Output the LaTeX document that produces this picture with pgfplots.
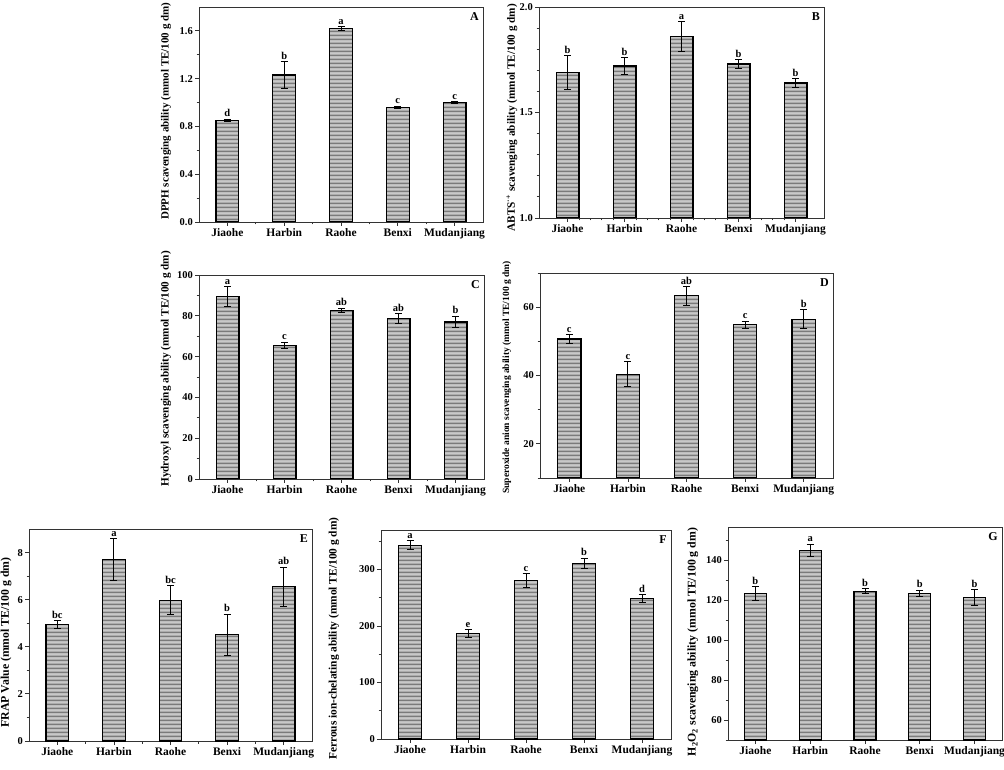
\documentclass[border=0pt]{standalone}
\usepackage{fontspec}
\setmainfont{Liberation Serif}
\usepackage{pgfplots}
\pgfplotsset{compat=1.18}
\usepackage{pgfplotstable}
\usetikzlibrary{patterns}

\pgfdeclarepatternformonly{mystripes}{\pgfpointorigin}{\pgfpoint{300pt}{4pt}}{\pgfpoint{300pt}{4pt}}{%
  \pgfpathrectangle{\pgfpoint{0pt}{1pt}}{\pgfpoint{300pt}{2pt}}\pgfusepath{fill}}

\definecolor{stripedark}{HTML}{7A7A7A}
\definecolor{stripelight}{HTML}{C8C8C8}

\pgfplotstableread{
x y e l
0 0.85 0.012 d
1 1.23 0.11 b
2 1.62 0.018 a
3 0.96 0.01 c
4 1.00 0.01 c
}\dataA
\pgfplotstableread{
x y e l
0 1.69 0.08 b
1 1.72 0.04 b
2 1.86 0.07 a
3 1.73 0.02 b
4 1.64 0.02 b
}\dataB
\pgfplotstableread{
x y e l
0 89.5 4.7 a
1 65.5 1.6 c
2 82.7 1.1 ab
3 78.5 2.4 ab
4 77.0 2.8 b
}\dataC
\pgfplotstableread{
x y e l
0 50.7 1.2 c
1 40.4 3.6 c
2 63.3 2.8 ab
3 54.9 1.0 c
4 56.5 2.8 b
}\dataD
\pgfplotstableread{
x y e l
0 4.95 0.16 bc
1 7.70 0.88 a
2 5.97 0.62 bc
3 4.51 0.87 b
4 6.55 0.83 ab
}\dataE
\pgfplotstableread{
x y e l
0 343 8 a
1 187 7 e
2 281 12 c
3 311 9 b
4 249 7 d
}\dataF
\pgfplotstableread{
x y e l
0 123.3 3.5 b
1 144.9 3.0 a
2 124.3 1.3 b
3 123.3 1.6 b
4 121.2 3.8 b
}\dataG

\pgfplotsset{
  panel/.style={
    scale only axis,
    anchor=south west,
    xmin=-0.5, xmax=4.5,
    xtick={0,1,2,3,4},
    xticklabels={Jiaohe,Harbin,Raohe,Benxi,Mudanjiang},
    tick pos=left,
    tick align=outside,
    major tick length=4pt,
    minor tick length=2.5pt,
    axis line style={line width=0.9pt, draw=black!80},
    every tick/.style={line width=0.8pt, black!80},
    xticklabel style={font=\fontsize{11.5}{13}\selectfont\bfseries, inner sep=2pt},
    yticklabel style={font=\fontsize{10.5}{12}\selectfont\bfseries, inner sep=2pt},
    /pgf/number format/assume math mode=true,
    ylabel style={font=\fontsize{11.2}{13}\selectfont\bfseries, anchor=center},
  },
  mybar/.style={
    ybar, bar width=0.4, draw=black, line width=1.2pt, fill=stripelight,
    postaction={pattern=mystripes, pattern color=stripedark},
    error bars/.cd, y dir=both, y explicit,
    error bar style={line width=1pt, black},
    error mark options={rotate=90, mark size=3.5pt, line width=1pt, black},
  },
  letters/.style={
    draw=none, mark=none, nodes near coords, point meta=explicit symbolic,
    nodes near coords style={font=\fontsize{10.5}{12}\selectfont\bfseries, anchor=south, inner sep=1pt, yshift=1pt},
  },
}
\newcommand{\panelletter}[1]{\node[anchor=north east, inner sep=0pt, font=\fontsize{12}{14}\selectfont\bfseries] at (rel axis cs:1,1) [xshift=-4pt, yshift=-5pt] {#1};}

\begin{document}
\begin{tikzpicture}
\useasboundingbox (0,0) rectangle (1004pt,769pt);

% A
\begin{axis}[panel, at={(199pt,547pt)}, width=284pt, height=215pt,
  ymin=0, ymax=1.8, ytick={0,0.4,0.8,1.2,1.6}, minor tick num=1,
  yticklabel style={/pgf/number format/.cd, fixed, fixed zerofill, precision=1},
  ylabel={DPPH scavenging ability (mmol TE/100 g dm)},
  ylabel style={at={(axis description cs:-0.116,0.515)}, font=\fontsize{11}{13}\selectfont\bfseries}]
\addplot[mybar] table[x=x, y=y, y error=e] {\dataA};
\addplot[letters] table[x=x, y expr=\thisrow{y}+\thisrow{e}, meta=l] {\dataA};
\panelletter{A}
\end{axis}

% B
\begin{axis}[panel, at={(539pt,551pt)}, width=285pt, height=211pt,
  ymin=1, ymax=2, ytick={1,1.5,2}, minor tick num=4,
  yticklabel style={/pgf/number format/.cd, fixed, fixed zerofill, precision=1},
  ylabel={ABTS\textsuperscript{·+} scavenging ability (mmol TE/100 g dm)},
  ylabel style={at={(axis description cs:-0.095,0.475)}}]
\addplot[mybar] table[x=x, y=y, y error=e] {\dataB};
\addplot[letters] table[x=x, y expr=\thisrow{y}+\thisrow{e}, meta=l] {\dataB};
\panelletter{B}
\end{axis}

% C
\begin{axis}[panel, at={(199pt,290pt)}, width=285pt, height=204pt,
  ymin=0, ymax=100, ytick={0,20,40,60,80,100}, minor tick num=1,
  ylabel={Hydroxyl scavenging ability (mmol TE/100 g dm)},
  ylabel style={at={(axis description cs:-0.116,0.54)}}]
\addplot[mybar] table[x=x, y=y, y error=e] {\dataC};
\addplot[letters] table[x=x, y expr=\thisrow{y}+\thisrow{e}, meta=l] {\dataC};
\panelletter{C}
\end{axis}

% D
\begin{axis}[panel, at={(540pt,291pt)}, width=293pt, height=205pt,
  ymin=10, ymax=70, ytick={20,40,60}, minor ytick={10,30,50,70},
  ylabel={Superoxide anion scavenging ability (mmol TE/100 g dm)},
  ylabel style={at={(axis description cs:-0.113,0.49)}, font=\fontsize{9.5}{11}\selectfont\bfseries}]
\addplot[mybar] table[x=x, y=y, y error=e] {\dataD};
\addplot[letters] table[x=x, y expr=\thisrow{y}+\thisrow{e}, meta=l] {\dataD};
\panelletter{D}
\end{axis}

% E
\begin{axis}[panel, at={(29pt,28pt)}, width=283pt, height=212pt,
  ymin=0, ymax=9, ytick={0,2,4,6,8}, minor tick num=1,
  ylabel={FRAP Value (mmol TE/100 g dm)},
  ylabel style={at={(axis description cs:-0.081,0.465)}, font=\fontsize{11.8}{13}\selectfont\bfseries}]
\addplot[mybar] table[x=x, y=y, y error=e] {\dataE};
\addplot[letters] table[x=x, y expr=\thisrow{y}+\thisrow{e}, meta=l] {\dataE};
\panelletter{E}
\end{axis}

% F
\begin{axis}[panel, at={(381pt,30pt)}, width=290pt, height=209pt,
  ymin=0, ymax=370, ytick={0,100,200,300}, minor ytick={50,150,250,350},
  ylabel={Ferrous ion-chelating ability (mmol TE/100 g dm)},
  ylabel style={at={(axis description cs:-0.162,0.48)}, font=\fontsize{11.4}{13}\selectfont\bfseries}]
\addplot[mybar] table[x=x, y=y, y error=e] {\dataF};
\addplot[letters] table[x=x, y expr=\thisrow{y}+\thisrow{e}, meta=l] {\dataF};
\panelletter{F}
\end{axis}

% G
\begin{axis}[panel, at={(728pt,29pt)}, width=274pt, height=213pt,
  ymin=50, ymax=156.5, ytick={60,80,100,120,140}, minor ytick={50,70,90,110,130,150},
  ylabel={H\textsubscript{2}O\textsubscript{2} scavenging ability (mmol TE/100 g dm)},
  ylabel style={at={(axis description cs:-0.128,0.46)}, font=\fontsize{11.8}{13}\selectfont\bfseries}]
\addplot[mybar] table[x=x, y=y, y error=e] {\dataG};
\addplot[letters] table[x=x, y expr=\thisrow{y}+\thisrow{e}, meta=l] {\dataG};
\panelletter{G}
\end{axis}
\end{tikzpicture}
\end{document}
